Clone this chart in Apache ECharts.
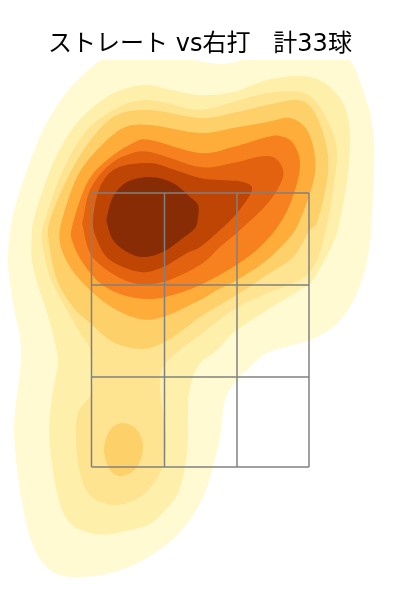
<!DOCTYPE html>
<html>
<head>
<meta charset="utf-8">
<style>html,body{margin:0;padding:0;background:#fff}#c{width:400px;height:600px}</style>
<script src="https://cdn.jsdelivr.net/npm/echarts@6/dist/echarts.min.js"></script>
</head>
<body>
<div id="c"></div>
<script>
const titleText = 'ストレート vs右打   計33球';
const zoneX = [-108.5, -35.5, 37, 109];
const zoneY = [407, 315, 223, 133];
const level1 = [[-90,544],[-50,544],[-13,541],[5,538],[20,536],[35,538],[50,541],[100,544],[145,544],[163,510],[173,470],[174,425],[172,385],[170,357],[163,323],[150,293],[133,273],[110,260],[100,257],[67,247],[50,233],[37,220],[25,200],[20,163],[13,133],[6,110],[-5,88],[-20,68],[-33,56],[-60,38],[-90,27],[-117,23],[-140,25],[-157,37],[-170,63],[-180,110],[-186,170],[-181,220],[-179,240],[-180,263],[-187,297],[-192,340],[-187,385],[-173,430],[-157,470],[-137,503],[-117,525]];
const level2 = [[-57,515],[-33,511],[0,505],[33,508],[67,520],[100,524],[123,518],[143,497],[150,467],[148,427],[140,380],[133,357],[113,320],[100,310],[67,290],[33,267],[17,250],[0,237],[-8,220],[-12,197],[-12,163],[-15,133],[-22,107],[-33,92],[-50,76],[-70,70],[-90,66],[-110,67],[-130,77],[-142,103],[-150,153],[-150,187],[-145,220],[-142,240],[-150,277],[-167,333],[-168,367],[-165,385],[-147,437],[-123,477],[-90,505]];
const level3 = [[-57,500],[-33,497],[0,490],[33,498],[67,507],[100,508],[117,497],[133,467],[137,443],[133,410],[128,380],[117,340],[100,320],[67,307],[33,290],[0,265],[-20,250],[-37,233],[-40,210],[-34,160],[-40,127],[-60,103],[-87,95],[-110,105],[-120,127],[-124,160],[-122,187],[-108,210],[-110,250],[-120,267],[-133,290],[-150,323],[-158,360],[-155,380],[-137,430],[-113,470],[-83,492]];
const level4 = [[-50,490],[0,482],[33,487],[67,495],[97,500],[113,490],[125,460],[128,427],[118,380],[110,370],[93,343],[67,325],[33,303],[0,283],[-13,273],[-37,257],[-60,251],[-87,258],[-110,277],[-127,293],[-143,320],[-151,357],[-150,380],[-130,427],[-107,463],[-83,485]];
const level4b = [[-77,177],[-63,170],[-57,153],[-63,133],[-78,124],[-90,130],[-96,150],[-90,170]];
const level5 = [[-50,475],[0,467],[33,472],[67,478],[90,482],[107,470],[115,443],[113,417],[100,380],[90,363],[67,340],[37,320],[17,310],[0,300],[-37,283],[-60,281],[-87,292],[-110,310],[-130,333],[-140,357],[-138,380],[-123,423],[-103,450],[-77,472]];
const level6 = [[-50,460],[0,447],[33,453],[67,463],[80,464],[93,457],[100,437],[95,410],[82,380],[60,353],[33,333],[0,315],[-27,305],[-50,301],[-77,305],[-100,317],[-117,337],[-127,357],[-128,373],[-113,417],[-93,440],[-67,457]];
const level7 = [[-50,448],[0,433],[33,437],[57,443],[73,443],[82,433],[82,420],[68,397],[40,370],[20,353],[0,335],[-37,318],[-67,317],[-93,330],[-110,347],[-117,373],[-117,380],[-110,410],[-93,433],[-73,445]];
const level8 = [[-50,437],[-25,430],[0,422],[20,420],[43,418],[52,410],[37,387],[20,370],[0,353],[-13,347],[-37,333],[-60,328],[-90,340],[-103,360],[-107,380],[-100,413],[-83,432]];
const level9 = [[-50,423],[-27,417],[-10,403],[-2,395],[-2,383],[-5,372],[-17,362],[-37,348],[-57,343],[-73,348],[-87,360],[-93,377],[-93,383],[-87,403],[-73,418]];
const contours = [level1, level2, level3, level4, level4b, level5, level6, level7, level8, level9];
const colors = ['#fffad2', '#fef0ab', '#fee391', '#fed06a', '#fed06a', '#feac3a', '#f7811e', '#e2620f', '#bf4504', '#882c05'];

// closed Catmull-Rom curve through the pixel positions of a contour
function closedCurve(pts) {
  const out = [], n = pts.length, steps = 8;
  for (let i = 0; i < n; i++) {
    const a = pts[(i - 1 + n) % n], b = pts[i], c = pts[(i + 1) % n], d = pts[(i + 2) % n];
    for (let s = 0; s < steps; s++) {
      const t = s / steps, t2 = t * t, t3 = t2 * t;
      out.push([0, 1].map(k => 0.5 * (2 * b[k] + (c[k] - a[k]) * t +
        (2 * a[k] - 5 * b[k] + 4 * c[k] - d[k]) * t2 +
        (3 * b[k] - a[k] - 3 * c[k] + d[k]) * t3)));
    }
  }
  return out;
}

const chart = echarts.init(document.getElementById('c'), null, {renderer: 'canvas'});
const lines = [];
zoneX.forEach(x => lines.push([[x, zoneY[0]], [x, zoneY[3]]]));
zoneY.forEach(y => lines.push([[zoneX[0], y], [zoneX[3], y]]));

chart.setOption({
  animation: false,
  title: {
    text: titleText, left: 'center', top: 28,
    textStyle: {fontFamily: '"DejaVu Sans","Noto Sans CJK JP"', fontSize: 24, fontWeight: 'normal', color: '#000'}
  },
  grid: {left: 0, right: 0, top: 60, bottom: 0},
  xAxis: {type: 'value', min: -200, max: 200, show: false},
  yAxis: {type: 'value', min: 0, max: 540, show: false},
  series: [
    {
      type: 'custom', clip: true, silent: true,
      data: contours.map((c, i) => [i]),
      encode: {x: 0},
      renderItem(params, api) {
        const i = api.value(0);
        return {
          type: 'polygon',
          shape: {points: closedCurve(contours[i].map(p => api.coord(p)))},
          style: {fill: colors[i], stroke: null}
        };
      }
    },
    {
      type: 'custom', clip: false, silent: true,
      data: lines.map((l, i) => [i]),
      encode: {x: 0},
      renderItem(params, api) {
        const l = lines[api.value(0)];
        const a = api.coord(l[0]), b = api.coord(l[1]);
        return {
          type: 'line',
          shape: {x1: a[0], y1: a[1], x2: b[0], y2: b[1]},
          style: {stroke: '#808080', lineWidth: 1.5}
        };
      }
    }
  ]
});
</script>
</body>
</html>
